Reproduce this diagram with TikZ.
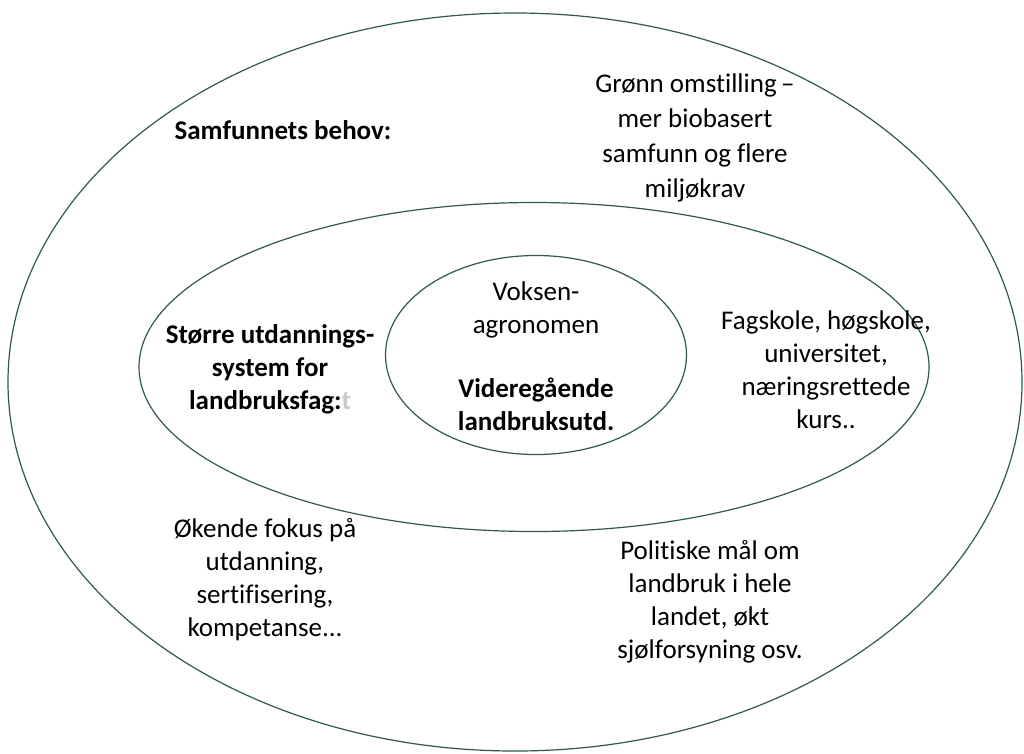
\documentclass[tikz,border=0pt]{standalone}
\usepackage{fontspec}
\setmainfont{Carlito}[Ligatures=NoCommon]
\usetikzlibrary{shapes.geometric}
\definecolor{ringline}{RGB}{47,88,78}
\definecolor{fadegray}{RGB}{200,200,200}
\begin{document}
\begin{tikzpicture}[
x=1pt,y=-1pt,
ring/.style={
ellipse,draw=ringline,line width=1.2pt,
inner sep=0pt
},
label/.style={
align=center,inner sep=0pt,
font=\fontsize{27}{33}\selectfont
},
boldlabel/.style={
label,
font=\fontsize{27}{33}\selectfont\bfseries
}
]
\useasboundingbox (0,0) rectangle (1024,753);

% =======================
% RINGS
% =======================

\node[ring,minimum width=1014pt,minimum height=738pt] (society) at (515,382) {};

\node[ring,minimum width=790pt,minimum height=329pt] (system) at (534,367) {};

\node[ring,minimum width=301pt,minimum height=199pt] (school) at (536,355) {};

% =======================
% OUTER RING (SOCIETY)
% =======================

\node[boldlabel] (needs) at (283,130) {Samfunnets behov:};

\node[label,font=\fontsize{27}{35}\selectfont] (green) at (695,138)
{Grønn omstilling\,–\\mer biobasert\\samfunn og flere\\miljøkrav};

\node[label] (focus) at (265,580)
{Økende fokus på\\utdanning,\\sertifisering,\\kompetanse...};

\node[label] (policy) at (710,602)
{Politiske mål om\\landbruk i hele\\landet, økt\\sjølforsyning osv.};

% =======================
% MIDDLE RING (SYSTEM)
% =======================

\node[boldlabel] (larger) at (270,369)
{Større utdannings-\\system for\\landbruksfag:{\color{fadegray}t}};

\node[label] (higher) at (826,370)
{Fagskole, høgskole,\\universitet,\\næringsrettede\\kurs..};

% =======================
% INNER RING (SCHOOL)
% =======================

\node[label] (adult) at (536,310) {Voksen-\\agronomen};

\node[boldlabel] (upper) at (536,404) {Videregående\\landbruksutd.};

\end{tikzpicture}
\end{document}
